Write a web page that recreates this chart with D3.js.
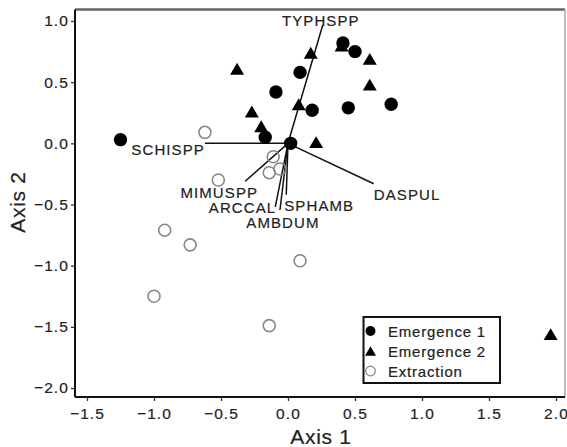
<!DOCTYPE html>
<html><head><meta charset="utf-8">
<script src="https://cdn.jsdelivr.net/npm/d3@7"></script>
<style>
body{margin:0;background:#fff;}
svg{display:block;font-family:"Liberation Sans",Arial,sans-serif;}
svg text{stroke:#222;stroke-width:0.2px;}
</style></head>
<body><svg id="c" width="567" height="447"></svg>
<script>
// ---- data ----
const emergence1 = [[-1.25,0.03],[0.41,0.82],[0.50,0.75],[0.09,0.58],[-0.09,0.42],[0.18,0.27],[0.45,0.29],[0.77,0.32],[-0.17,0.05],[0.02,0.00]];
const emergence2 = [[0.40,0.80],[0.17,0.74],[0.61,0.69],[-0.38,0.61],[0.61,0.48],[0.08,0.32],[-0.27,0.26],[-0.20,0.14],[0.21,0.01],[1.96,-1.56]];
const extraction = [[-0.62,0.09],[-0.11,-0.11],[-0.06,-0.21],[-0.14,-0.24],[-0.52,-0.30],[-0.73,-0.83],[-0.92,-0.71],[0.09,-0.96],[-1.00,-1.25],[-0.14,-1.49]];
const vectorNames = ["TYPHSPP","SCHISPP","DASPUL","MIMUSPP","ARCCAL","AMBDUM","SPHAMB"];
const vectorX = [0.26,-0.62,0.64,-0.32,-0.095,-0.06,-0.013];
const vectorY = [0.97,0.00,-0.33,-0.31,-0.52,-0.545,-0.42];
const xTicks = [-1.5,-1.0,-0.5,0.0,0.5,1.0,1.5,2.0];
const yTicks = [1.0,0.5,0.0,-0.5,-1.0,-1.5,-2.0];
const legendLabels = ["Emergence 1","Emergence 2","Extraction"];

// label placement (anchor, dx, dy) for vector labels
const labelPos = {
  TYPHSPP:["middle",-2,1], SCHISPP:["end",0,12], DASPUL:["start",0,16],
  MIMUSPP:["end",13,17], ARCCAL:["end",1,6], AMBDUM:["middle",3,18], SPHAMB:["start",-2,16]
};

const svg = d3.select("#c");
const x = d3.scaleLinear().domain([-1.5,2.0]).range([87,556]);
const y = d3.scaleLinear().domain([1.0,-2.0]).range([21,388]);
const L=75,R=565,T=9.5,B=397;

// frame
svg.append("line").attr("x1",L).attr("x2",R).attr("y1",T).attr("y2",T).attr("stroke","#666").attr("stroke-width",2.5);
svg.append("line").attr("x1",R).attr("x2",R).attr("y1",T).attr("y2",B).attr("stroke","#aaa").attr("stroke-width",1.5);

// axes
const xa = svg.append("g").attr("transform",`translate(0,${B})`)
  .call(d3.axisBottom(x).tickValues(xTicks).tickFormat(d3.format(".1f")).tickSize(4).tickSizeOuter(0));
xa.select(".domain").attr("d",`M${L},0H${R}`).attr("stroke","#111").attr("stroke-width",2);
xa.selectAll("text").attr("font-size",15.5).attr("letter-spacing",1.1).attr("fill","#222").attr("dy","0.95em").attr("font-family","Liberation Sans, Arial");
const ya = svg.append("g").attr("transform",`translate(${L},0)`)
  .call(d3.axisLeft(y).tickValues(yTicks).tickFormat(d3.format(".1f")).tickSize(4).tickSizeOuter(0));
ya.select(".domain").attr("d",`M0,${T}V${B}`).attr("stroke","#111").attr("stroke-width",2);
ya.selectAll("text").attr("font-size",15.5).attr("letter-spacing",1.1).attr("fill","#222").attr("x",-6).attr("font-family","Liberation Sans, Arial");
svg.selectAll(".tick line").attr("stroke","#333").attr("stroke-width",1.3);

svg.append("text").attr("x",321).attr("y",444).attr("text-anchor","middle")
  .attr("font-size",21).attr("letter-spacing",0.7).attr("fill","#222").text("Axis 1");
svg.append("text").attr("transform","translate(25,202) rotate(-90)").attr("text-anchor","middle")
  .attr("font-size",21).attr("letter-spacing",0.7).attr("fill","#222").text("Axis 2");

// vectors
const vec = vectorNames.map((n,i)=>({n,x:vectorX[i],y:vectorY[i]}));
svg.append("g").selectAll("line").data(vec).join("line")
  .attr("x1",x(0)).attr("y1",y(0)).attr("x2",d=>x(d.x)).attr("y2",d=>y(d.y))
  .attr("stroke","#111").attr("stroke-width",1.5);
svg.append("g").selectAll("text").data(vec).join("text")
  .attr("x",d=>x(d.x)+labelPos[d.n][1]).attr("y",d=>y(d.y)+labelPos[d.n][2])
  .attr("text-anchor",d=>labelPos[d.n][0])
  .attr("font-size",15).attr("letter-spacing",1.1).attr("fill","#222").text(d=>d.n);

// points
const tri = s => `M0,${-s*0.85}L${s},${s*0.85}L${-s},${s*0.85}Z`;
svg.append("g").selectAll("circle").data(extraction).join("circle")
  .attr("cx",d=>x(d[0])).attr("cy",d=>y(d[1])).attr("r",6)
  .attr("fill","none").attr("stroke","#888").attr("stroke-width",1.6);
svg.append("g").selectAll("path").data(emergence2).join("path")
  .attr("transform",d=>`translate(${x(d[0])},${y(d[1])})`).attr("d",tri(7)).attr("fill","#000");
svg.append("g").selectAll("circle").data(emergence1).join("circle")
  .attr("cx",d=>x(d[0])).attr("cy",d=>y(d[1])).attr("r",6.7).attr("fill","#000");

// legend
const lg = svg.append("g");
lg.append("rect").attr("x",363.5).attr("y",317).attr("width",136.5).attr("height",66)
  .attr("fill","#fff").attr("stroke","#111").attr("stroke-width",2);
const rowY=[331,351,371];
lg.append("circle").attr("cx",370.5).attr("cy",rowY[0]).attr("r",5).attr("fill","#000");
lg.append("path").attr("transform",`translate(370.5,${rowY[1]})`).attr("d",tri(5.5)).attr("fill","#000");
lg.append("circle").attr("cx",370.5).attr("cy",rowY[2]).attr("r",4.8).attr("fill","none").attr("stroke","#888").attr("stroke-width",1.3);
lg.selectAll("text.l").data(legendLabels).join("text").attr("class","l")
  .attr("x",388).attr("y",(d,i)=>rowY[i]+5.5).attr("font-size",15).attr("letter-spacing",0.8)
  .attr("fill","#222").text(d=>d);
</script></body></html>
